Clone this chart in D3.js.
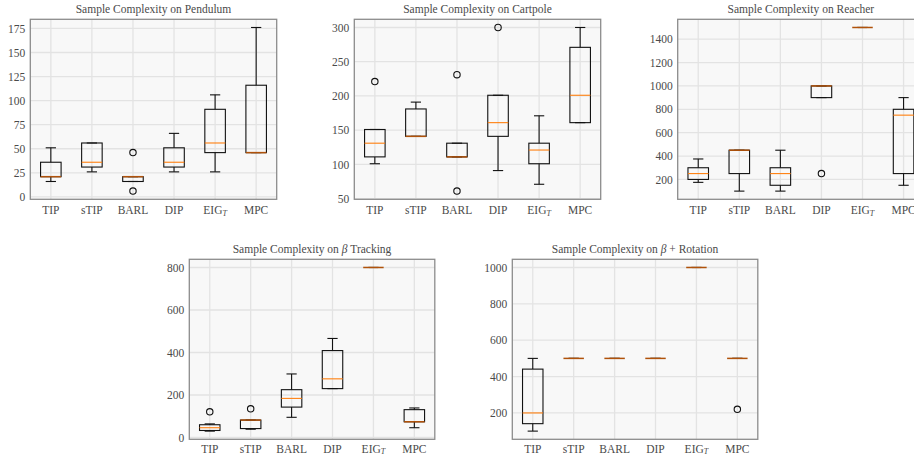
<!DOCTYPE html>
<html>
<head>
<meta charset="utf-8">
<script src="https://cdn.jsdelivr.net/npm/d3@7"></script>
<style>
  body { margin: 0; background: #fff; }
  text { font-family: "Liberation Serif", "DejaVu Serif", serif; fill: #4a4a4a; }
</style>
</head>
<body>
<svg id="chart" width="914" height="457"></svg>
<script>
// categories shared by every panel
var methods = ["TIP", "sTIP", "BARL", "DIP", "EIG_T", "MPC"]

// box stats per method: [low whisker, q1, median, q3, high whisker]
var pendulum = [[16,21,21,36,51],[26,31,36,56,56],[16,16,21,21,21],[26,31,36,51,66],[26,46,56,91,106],[46,46,46,116,176]]
var pendulumOut = [[],[],[46,6],[],[],[]]
var pendulumTicks = [0,25,50,75,100,125,150,175]

var cartpole = [[101,111,131,151,151],[141,141,141,181,191],[111,111,111,131,131],[91,141,161,201,201],[71,101,121,131,171],[161,161,201,271,300]]
var cartpoleOut = [[221],[],[231,61],[300],[],[]]
var cartpoleTicks = [50,100,150,200,250,300]

var reacher = [[175,200,250,300,375],[100,250,450,450,450],[100,150,250,300,450],[900,900,1000,1000,1000],[1500,1500,1500,1500,1500],[150,250,750,800,900]]
var reacherOut = [[],[],[],[250],[],[]]
var reacherTicks = [200,400,600,800,1000,1200,1400]

var tracking = [[30,33,46,60,64],[39,42,82,82,82],[95,143,184,225,299],[230,230,276,409,466],[800,800,800,800,800],[46,74,74,131,139]]
var trackingOut = [[121],[135],[],[],[],[]]
var trackingTicks = [0,200,400,600,800]

var rotation = [[100,141,200,441,500],[500,500,500,500,500],[500,500,500,500,500],[500,500,500,500,500],[1000,1000,1000,1000,1000],[500,500,500,500,500]]
var rotationOut = [[],[],[],[],[],[220]]
var rotationTicks = [200,400,600,800,1000]

// layout of each subplot frame
var panels = [
  {title: ["Sample Complexity on Pendulum"], stats: pendulum, out: pendulumOut, ticks: pendulumTicks, x: 30.3, y: 19.3, w: 246.4, h: 180, lab: 14.8},
  {title: ["Sample Complexity on Cartpole"], stats: cartpole, out: cartpoleOut, ticks: cartpoleTicks, x: 354.3, y: 19.3, w: 246.4, h: 180, lab: 14.8},
  {title: ["Sample Complexity on Reacher"], stats: reacher, out: reacherOut, ticks: reacherTicks, x: 677.7, y: 19.3, w: 246.4, h: 180, lab: 14.8},
  {title: ["Sample Complexity on ", "β", " Tracking"], stats: tracking, out: trackingOut, ticks: trackingTicks, x: 189.3, y: 259.3, w: 245.5, h: 180, lab: 13.3},
  {title: ["Sample Complexity on ", "β", " + Rotation"], stats: rotation, out: rotationOut, ticks: rotationTicks, x: 512.3, y: 259.3, w: 245.5, h: 180, lab: 13.3}
]

var svg = d3.select("#chart")

panels.forEach(function(p) {
  var g = svg.append("g").attr("transform", "translate(" + p.x + "," + p.y + ")")

  var vals = []
  p.stats.forEach(function(s, i) { vals = vals.concat(s, p.out[i]) })
  var ext = d3.extent(vals)
  var pad = (ext[1] - ext[0]) * 0.05

  var x = d3.scaleLinear().domain([0.5, methods.length + 0.5]).range([0, p.w])
  var y = d3.scaleLinear().domain([ext[0] - pad, ext[1] + pad]).range([p.h, 0])

  g.append("rect").attr("width", p.w).attr("height", p.h).attr("fill", "#f8f8f8")

  // grid
  g.selectAll(".gy").data(p.ticks).enter().append("line")
    .attr("x1", 0).attr("x2", p.w)
    .attr("y1", function(d) { return y(d) }).attr("y2", function(d) { return y(d) })
    .attr("stroke", "#e3e3e3").attr("stroke-width", 1.3)
  g.selectAll(".gx").data(methods).enter().append("line")
    .attr("x1", function(d, i) { return x(i + 1) }).attr("x2", function(d, i) { return x(i + 1) })
    .attr("y1", 0).attr("y2", p.h)
    .attr("stroke", "#e3e3e3").attr("stroke-width", 1.3)

  // boxes
  var bw = 0.25, cw = 0.125
  p.stats.forEach(function(s, i) {
    var c = i + 1
    var b = g.append("g").attr("fill", "none").attr("stroke", "#111").attr("stroke-width", 1.1)
    b.append("line").attr("x1", x(c)).attr("x2", x(c)).attr("y1", y(s[0])).attr("y2", y(s[1]))
    b.append("line").attr("x1", x(c)).attr("x2", x(c)).attr("y1", y(s[3])).attr("y2", y(s[4]))
    b.append("line").attr("x1", x(c - cw)).attr("x2", x(c + cw)).attr("y1", y(s[0])).attr("y2", y(s[0]))
    b.append("line").attr("x1", x(c - cw)).attr("x2", x(c + cw)).attr("y1", y(s[4])).attr("y2", y(s[4]))
    b.append("rect").attr("x", x(c - bw)).attr("y", y(s[3]))
      .attr("width", x(c + bw) - x(c - bw)).attr("height", y(s[1]) - y(s[3]))
    // median darkens to brown where it sits on a box edge
    var onEdge = s[2] === s[1] || s[2] === s[3]
    g.append("line").attr("x1", x(c - bw)).attr("x2", x(c + bw)).attr("y1", y(s[2])).attr("y2", y(s[2]))
      .attr("stroke", onEdge ? "#b0520a" : "#ff7f0e").attr("stroke-width", onEdge ? 1.5 : 1.1)
    g.selectAll(null).data(p.out[i]).enter().append("circle")
      .attr("cx", x(c)).attr("cy", function(d) { return y(d) }).attr("r", 3.2)
      .attr("fill", "none").attr("stroke", "#111").attr("stroke-width", 1.1)
  })

  // frame
  g.append("rect").attr("width", p.w).attr("height", p.h)
    .attr("fill", "none").attr("stroke", "#8c8c8c").attr("stroke-width", 1.3)

  // axes
  var ya = g.append("g").call(d3.axisLeft(y).tickValues(p.ticks).tickFormat(d3.format("d")).tickSize(0).tickPadding(5))
  ya.select(".domain").remove()
  ya.selectAll("text").attr("font-size", 11.5).attr("font-family", null).attr("fill", null)

  var xl = g.selectAll(".xl").data(methods).enter().append("text")
    .attr("x", function(d, i) { return x(i + 1) }).attr("y", p.h + p.lab)
    .attr("text-anchor", "middle").attr("font-size", 11.5)
  xl.each(function(d) {
    var t = d3.select(this)
    if (d === "EIG_T") {
      t.append("tspan").text("EIG")
      t.append("tspan").text("T").attr("font-style", "italic").attr("font-size", 8).attr("dy", 1.5)
    } else {
      t.text(d)
    }
  })

  var tt = g.append("text").attr("x", p.w / 2).attr("y", -6).attr("text-anchor", "middle").attr("font-size", 11.5)
  p.title.forEach(function(part) {
    tt.append("tspan").text(part).attr("font-style", part === "β" ? "italic" : null)
  })
})
</script>
</body>
</html>
